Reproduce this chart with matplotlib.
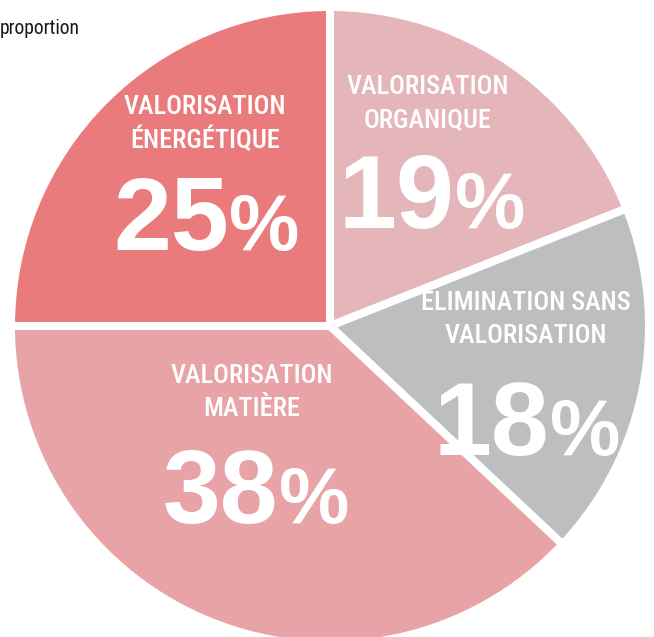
import matplotlib
matplotlib.use("Agg")
import matplotlib.pyplot as plt
from matplotlib import font_manager
from matplotlib.font_manager import FontProperties

# Shares of waste treatment routes (%), clockwise from 12 o'clock
categories = [
    ["VALORISATION", "ORGANIQUE"],
    ["ELIMINATION SANS", "VALORISATION"],
    ["VALORISATION", "MATIÈRE"],
    ["VALORISATION", "ÉNERGÉTIQUE"],
]
shares = [19, 18, 38, 25]
colors = ["#E4B5B9", "#BDBEC0", "#E8A3A6", "#EA7B7D"]

# Layout (pixels, origin top-left)
W, H = 654, 637
CENTER = (330, 326)
RADIUS = 319
GAP_PX = 8
label_pos = [(428, 87), (526, 303), (252, 376), (205, 107)]
number_pos = [(432, 228), (527, 455), (256, 523), (206, 250)]
LINE_GAP = 33
WORD_WIDTH = 162   # width of "VALORISATION" in pixels


def pick_condensed(prefs):
    """Find a narrow sans-serif face if one is installed."""
    files = [f.fname for f in font_manager.fontManager.ttflist]
    for p in prefs:
        for fn in files:
            if p in fn.lower().replace(" ", "").replace("_", ""):
                return FontProperties(fname=fn)
    for fn in files:
        low = fn.lower()
        if ("narrow" in low or "condensed" in low) and "bold" not in low \
                and "oblique" not in low and "italic" not in low:
            return FontProperties(fname=fn)
    return FontProperties(family="Liberation Sans")


label_font = pick_condensed(["liberationsansnarrow-regular",
                             "robotocondensed-medium",
                             "robotocondensed-regular",
                             "dejavusanscondensed.ttf"])
small_font = pick_condensed(["liberationsansnarrow-regular",
                             "robotocondensed-regular",
                             "dejavusanscondensed.ttf"])

fig = plt.figure(figsize=(W / 100, H / 100), dpi=100)
ax = fig.add_axes([0, 0, 1, 1])

ax.pie(
    shares,
    colors=colors,
    startangle=90,
    counterclock=False,
    center=(CENTER[0], H - CENTER[1]),
    radius=RADIUS,
    wedgeprops=dict(edgecolor="white", linewidth=GAP_PX * 72 / 100),
)
ax.set_xlim(0, W)
ax.set_ylim(0, H)
ax.set_axis_off()

fig.canvas.draw()
renderer = fig.canvas.get_renderer()


def fitted(font, word, width):
    """Copy of font sized so that `word` spans `width` pixels."""
    fp = font.copy()
    fp.set_size(20)
    probe = ax.text(0, 0, word, fontproperties=fp)
    size = 20 * width / probe.get_window_extent(renderer).width
    probe.remove()
    fp.set_size(size)
    return fp


label_fp = fitted(label_font, "VALORISATION", WORD_WIDTH)

# Category names
for lines, (x, y) in zip(categories, label_pos):
    for i, line in enumerate(lines):
        ax.text(x, H - (y + i * LINE_GAP), line, ha="center", va="center",
                color="white", fontproperties=label_fp)

# Big percentages: number plus a smaller % sign, centred as a group
for val, (x, y) in zip(shares, number_pos):
    num = ax.text(0, H - y, f"{val}", ha="left", va="baseline", color="white",
                  fontsize=75, fontweight="bold", family="Liberation Sans")
    pct = ax.text(0, H - y, "%", ha="left", va="baseline", color="white",
                  fontsize=57, fontweight="bold", family="Liberation Sans")
    wn = num.get_window_extent(renderer).width
    wp = pct.get_window_extent(renderer).width
    left = x - (wn + wp) / 2
    num.set_x(left)
    pct.set_x(left + wn)

small_fp = fitted(small_font, "proportion", 80)
ax.text(0, H - 28, "proportion", ha="left", va="center", color="#1a1a1a",
        fontproperties=small_fp)

fig.savefig("out.png", dpi=100)
